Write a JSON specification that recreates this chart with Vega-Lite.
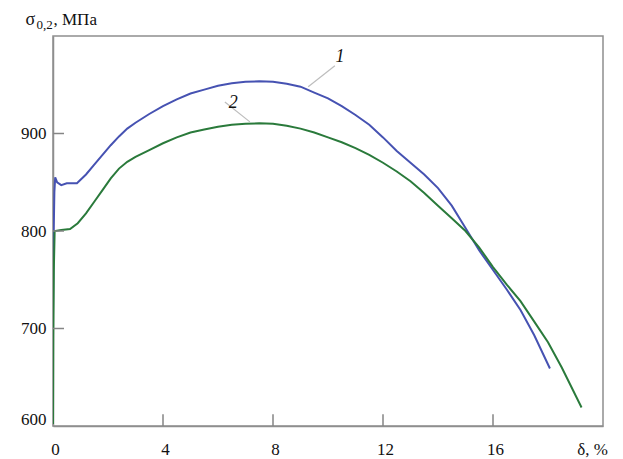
{
  "$schema": "https://vega.github.io/schema/vega-lite/v6.json",
  "width": 550,
  "height": 390,
  "autosize": "none",
  "padding": {"left": 53, "top": 36, "right": 20, "bottom": 33},
  "background": "white",
  "config": {
    "view": {"stroke": "#8e8e8e", "strokeWidth": 1.5},
    "axis": {
      "grid": false,
      "ticks": false,
      "domainColor": "#8e8e8e",
      "domainWidth": 1.5,
      "labelFlush": false,
      "labelFont": "Liberation Serif",
      "labelFontSize": 17,
      "labelColor": "#111111",
      "title": null
    }
  },
  "datasets": {
    "curves": [
      {"d": 0, "s": 715, "c": "1"}, {"d": 0.02, "s": 790, "c": "1"}, {"d": 0.05, "s": 840, "c": "1"}, {"d": 0.08, "s": 855, "c": "1"},
      {"d": 0.15, "s": 850, "c": "1"}, {"d": 0.3, "s": 847, "c": "1"}, {"d": 0.5, "s": 849, "c": "1"}, {"d": 0.87, "s": 849, "c": "1"},
      {"d": 1.2, "s": 858, "c": "1"}, {"d": 1.5, "s": 868, "c": "1"}, {"d": 1.8, "s": 878, "c": "1"}, {"d": 2.1, "s": 888, "c": "1"},
      {"d": 2.4, "s": 897, "c": "1"}, {"d": 2.7, "s": 905, "c": "1"}, {"d": 3.0, "s": 911, "c": "1"}, {"d": 3.5, "s": 920, "c": "1"},
      {"d": 4.0, "s": 928, "c": "1"}, {"d": 4.5, "s": 935, "c": "1"}, {"d": 5.0, "s": 941, "c": "1"}, {"d": 5.5, "s": 945, "c": "1"},
      {"d": 6.0, "s": 949, "c": "1"}, {"d": 6.5, "s": 951.5, "c": "1"}, {"d": 7.0, "s": 953, "c": "1"}, {"d": 7.5, "s": 953.5, "c": "1"},
      {"d": 8.0, "s": 953, "c": "1"}, {"d": 8.5, "s": 951, "c": "1"}, {"d": 9.0, "s": 948, "c": "1"}, {"d": 9.5, "s": 942, "c": "1"},
      {"d": 10.0, "s": 936, "c": "1"}, {"d": 10.5, "s": 928, "c": "1"}, {"d": 11.0, "s": 919, "c": "1"}, {"d": 11.5, "s": 909, "c": "1"},
      {"d": 12.0, "s": 896, "c": "1"}, {"d": 12.5, "s": 882, "c": "1"}, {"d": 13.0, "s": 870, "c": "1"}, {"d": 13.5, "s": 858, "c": "1"},
      {"d": 14.0, "s": 844, "c": "1"}, {"d": 14.5, "s": 826, "c": "1"}, {"d": 15.0, "s": 803, "c": "1"}, {"d": 15.5, "s": 780, "c": "1"},
      {"d": 16.0, "s": 760, "c": "1"}, {"d": 16.5, "s": 740, "c": "1"}, {"d": 17.0, "s": 719, "c": "1"}, {"d": 17.5, "s": 693, "c": "1"},
      {"d": 18.07, "s": 659, "c": "1"},
      {"d": 0, "s": 602, "c": "2"}, {"d": 0.01, "s": 690, "c": "2"}, {"d": 0.03, "s": 760, "c": "2"}, {"d": 0.06, "s": 800, "c": "2"},
      {"d": 0.3, "s": 801, "c": "2"}, {"d": 0.62, "s": 802, "c": "2"}, {"d": 0.9, "s": 808, "c": "2"}, {"d": 1.2, "s": 818, "c": "2"},
      {"d": 1.5, "s": 830, "c": "2"}, {"d": 1.8, "s": 842, "c": "2"}, {"d": 2.1, "s": 854, "c": "2"}, {"d": 2.4, "s": 864, "c": "2"},
      {"d": 2.7, "s": 871, "c": "2"}, {"d": 3.0, "s": 876, "c": "2"}, {"d": 3.5, "s": 883, "c": "2"}, {"d": 4.0, "s": 890, "c": "2"},
      {"d": 4.5, "s": 896, "c": "2"}, {"d": 5.0, "s": 901, "c": "2"}, {"d": 5.5, "s": 904, "c": "2"}, {"d": 6.0, "s": 907, "c": "2"},
      {"d": 6.5, "s": 909, "c": "2"}, {"d": 7.0, "s": 910, "c": "2"}, {"d": 7.5, "s": 910.5, "c": "2"}, {"d": 8.0, "s": 910, "c": "2"},
      {"d": 8.5, "s": 908, "c": "2"}, {"d": 9.0, "s": 905, "c": "2"}, {"d": 9.5, "s": 901, "c": "2"}, {"d": 10.0, "s": 896, "c": "2"},
      {"d": 10.5, "s": 891, "c": "2"}, {"d": 11.0, "s": 885, "c": "2"}, {"d": 11.5, "s": 878, "c": "2"}, {"d": 12.0, "s": 870, "c": "2"},
      {"d": 12.5, "s": 861, "c": "2"}, {"d": 13.0, "s": 851, "c": "2"}, {"d": 13.5, "s": 839, "c": "2"}, {"d": 14.0, "s": 826, "c": "2"},
      {"d": 14.5, "s": 813, "c": "2"}, {"d": 15.0, "s": 800, "c": "2"}, {"d": 15.5, "s": 783, "c": "2"}, {"d": 16.0, "s": 763, "c": "2"},
      {"d": 16.5, "s": 745, "c": "2"}, {"d": 17.0, "s": 728, "c": "2"}, {"d": 17.5, "s": 707, "c": "2"}, {"d": 18.0, "s": 686, "c": "2"},
      {"d": 18.5, "s": 660, "c": "2"}, {"d": 19.22, "s": 619, "c": "2"}
    ],
    "xticks": [{"v": 4, "lo": 600, "hi": 612}, {"v": 8, "lo": 600, "hi": 612}, {"v": 12, "lo": 600, "hi": 612}, {"v": 16, "lo": 600, "hi": 612}],
    "yticks": [{"v": 700, "lo": 0, "hi": 0.4}, {"v": 800, "lo": 0, "hi": 0.4}, {"v": 900, "lo": 0, "hi": 0.4}],
    "leaders": [
      {"x1": 10.25, "y1": 969.5, "x2": 9.28, "y2": 947.9, "c": "1"},
      {"x1": 6.25, "y1": 932.4, "x2": 7.16, "y2": 911.9, "c": "2"}
    ],
    "labels": [
      {"x": 10.44, "y": 978, "t": "1"},
      {"x": 6.55, "y": 931, "t": "2"}
    ],
    "titlepos": [{"x": -1.0, "y": 1011.3}]
  },
  "layer": [
    {
      "data": {"name": "curves"},
      "mark": {"type": "line", "strokeWidth": 2, "clip": true},
      "encoding": {
        "x": {
          "field": "d", "type": "quantitative",
          "scale": {"domain": [0, 20], "nice": false, "zero": false},
          "axis": {
            "values": [0, 4, 8, 12, 16, 20],
            "labelPadding": 15,
            "labelExpr": "datum.value == 20 ? 'δ, %' : datum.label",
            "labelOffset": {"condition": {"test": "datum.value == 20", "value": -11}, "value": 2}
          }
        },
        "y": {
          "field": "s", "type": "quantitative",
          "scale": {"domain": [600, 1000], "nice": false, "zero": false},
          "axis": {
            "values": [600, 700, 800, 900],
            "labelPadding": 7,
            "labelOffset": {"condition": {"test": "datum.value == 600", "value": -7}, "value": 0}
          }
        },
        "color": {
          "field": "c", "type": "nominal",
          "scale": {"domain": ["1", "2"], "range": ["#4652b2", "#2a7a3b"]},
          "legend": null
        }
      }
    },
    {
      "data": {"name": "xticks"},
      "mark": {"type": "rule", "color": "#858585", "strokeWidth": 1.5},
      "encoding": {
        "x": {"field": "v", "type": "quantitative"},
        "y": {"field": "lo", "type": "quantitative"},
        "y2": {"field": "hi"}
      }
    },
    {
      "data": {"name": "yticks"},
      "mark": {"type": "rule", "color": "#858585", "strokeWidth": 1.5},
      "encoding": {
        "y": {"field": "v", "type": "quantitative"},
        "x": {"field": "lo", "type": "quantitative"},
        "x2": {"field": "hi"}
      }
    },
    {
      "data": {"name": "leaders"},
      "mark": {"type": "rule", "color": "#bdbdbd", "strokeWidth": 1.2},
      "encoding": {
        "x": {"field": "x1", "type": "quantitative"},
        "y": {"field": "y1", "type": "quantitative"},
        "x2": {"field": "x2"},
        "y2": {"field": "y2"}
      }
    },
    {
      "data": {"name": "labels"},
      "mark": {"type": "text", "font": "Liberation Serif", "fontStyle": "italic", "fontSize": 18, "color": "#111111"},
      "encoding": {
        "x": {"field": "x", "type": "quantitative"},
        "y": {"field": "y", "type": "quantitative"},
        "text": {"field": "t"}
      }
    },
    {
      "data": {"name": "titlepos"},
      "mark": {"type": "text", "font": "Liberation Serif", "fontSize": 18, "align": "left", "baseline": "alphabetic", "color": "#111111"},
      "encoding": {
        "x": {"field": "x", "type": "quantitative"},
        "y": {"field": "y", "type": "quantitative"},
        "text": {"value": "σ"}
      }
    },
    {
      "data": {"name": "titlepos"},
      "mark": {"type": "text", "font": "Liberation Serif", "fontSize": 13, "align": "left", "baseline": "alphabetic", "dx": 11, "dy": 4, "color": "#111111"},
      "encoding": {
        "x": {"field": "x", "type": "quantitative"},
        "y": {"field": "y", "type": "quantitative"},
        "text": {"value": "0,2"}
      }
    },
    {
      "data": {"name": "titlepos"},
      "mark": {"type": "text", "font": "Liberation Serif", "fontSize": 17, "align": "left", "baseline": "alphabetic", "dx": 28, "color": "#111111"},
      "encoding": {
        "x": {"field": "x", "type": "quantitative"},
        "y": {"field": "y", "type": "quantitative"},
        "text": {"value": ", МПа"}
      }
    }
  ]
}
